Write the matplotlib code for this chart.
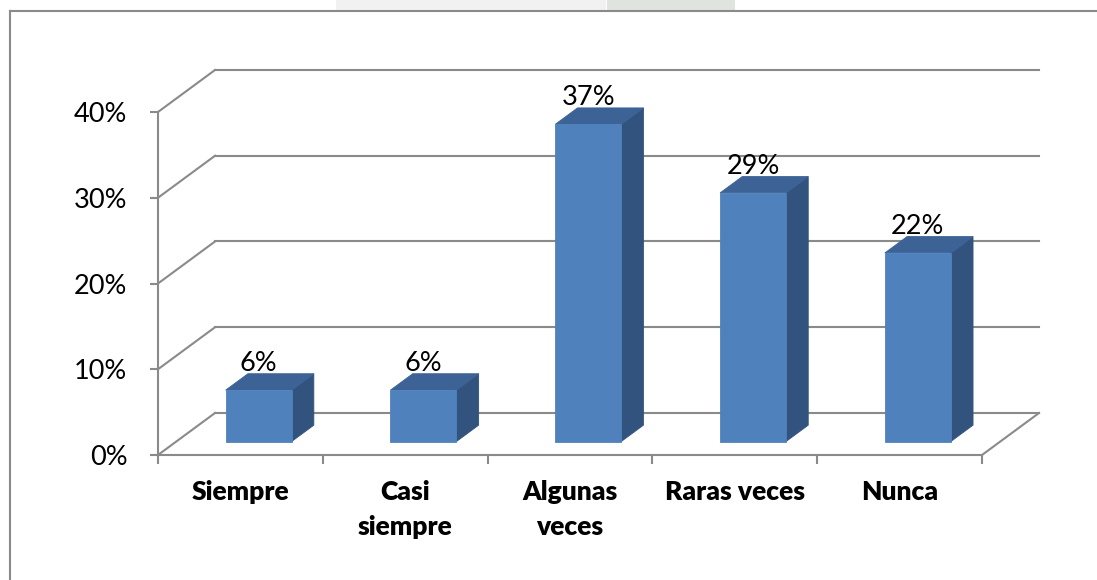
import matplotlib
matplotlib.use("Agg")
import matplotlib.pyplot as plt
from matplotlib.lines import Line2D
from matplotlib.patches import Polygon, Rectangle
from matplotlib.ticker import FuncFormatter

categories = ["Siempre", "Casi\nsiempre", "Algunas\nveces", "Raras veces", "Nunca"]
percentages = [6, 6, 37, 29, 22]
y_ticks = [0, 10, 20, 30, 40]

W, H = 1097, 580
GRID = "#8a8a8a"
FRONT = "#4f81bd"
TOP = "#3d6396"
SIDE = "#32537d"

plt.rcParams["font.family"] = ["Lato", "DejaVu Sans"]

fig = plt.figure(figsize=(W / 100, H / 100), dpi=100)
fig.patch.set_facecolor("white")

# faint watermark remnants in the top strip + chart border
fig.add_artist(Rectangle((336 / W, 1 - 11 / H), 270 / W, 11 / H, transform=fig.transFigure,
                         facecolor="#f0f1f0", edgecolor="none"))
fig.add_artist(Rectangle((607 / W, 1 - 11 / H), 128 / W, 11 / H, transform=fig.transFigure,
                         facecolor="#dfe4df", edgecolor="none"))
fig.add_artist(Line2D([10 / W, 10 / W], [0, 1 - 11 / H], transform=fig.transFigure, color=GRID, lw=1.5))
fig.add_artist(Line2D([10 / W, 1], [1 - 11 / H, 1 - 11 / H], transform=fig.transFigure, color=GRID, lw=1.5))

# front plane of the 3-D plot
ax = fig.add_axes([158 / W, 125 / H, 824 / W, 343 / H])
ax.set_xlim(-0.5, len(categories) - 0.5)
ax.set_ylim(0, 40)
ax.patch.set_alpha(0)

# depth vector (back wall offset) in data units
ddx = 57 / (824 / len(categories))
ddy = 42 / (343 / 40)

x0, x1 = -0.5, len(categories) - 0.5
for t in y_ticks:
    ax.plot([x0, x0 + ddx], [t, t + ddy], color=GRID, lw=1.5, clip_on=False, zorder=1)
    ax.plot([x0 + ddx, x1 + ddx], [t + ddy, t + ddy], color=GRID, lw=1.5, clip_on=False, zorder=1)
ax.plot([x1, x1 + ddx], [0, ddy], color=GRID, lw=1.5, clip_on=False, zorder=1)

# 3-D bars
d0, d1 = 0.32, 0.71
bw = 0.40
for i, v in enumerate(percentages):
    fx = i + d0 * ddx
    fy = d0 * ddy
    bx = i + d1 * ddx
    by = d1 * ddy
    front = [(fx - bw / 2, fy), (fx + bw / 2, fy), (fx + bw / 2, fy + v), (fx - bw / 2, fy + v)]
    top = [(fx - bw / 2, fy + v), (fx + bw / 2, fy + v), (bx + bw / 2, by + v), (bx - bw / 2, by + v)]
    side = [(fx + bw / 2, fy), (bx + bw / 2, by), (bx + bw / 2, by + v), (fx + bw / 2, fy + v)]
    for pts, col in ((side, SIDE), (top, TOP), (front, FRONT)):
        ax.add_patch(Polygon(pts, closed=True, facecolor=col, edgecolor=col, lw=0.6,
                             clip_on=False, zorder=3))
    ax.text(fx, by + v + 0.35, f"{v}%", ha="center", va="baseline", fontsize=19.5,
            color="black", zorder=4, clip_on=False)

for side_name in ("top", "right"):
    ax.spines[side_name].set_visible(False)
for side_name in ("left", "bottom"):
    ax.spines[side_name].set_color(GRID)
    ax.spines[side_name].set_linewidth(1.5)
    ax.spines[side_name].set_zorder(2)

ax.set_yticks(y_ticks)
ax.yaxis.set_major_formatter(FuncFormatter(lambda v, _: f"{v:.0f}%"))
ax.tick_params(axis="y", direction="out", length=6, width=1.5, color=GRID, pad=16,
               labelsize=19.5, labelcolor="black")

ax.set_xticks([i - 0.5 for i in range(len(categories) + 1)])
ax.set_xticklabels([])
ax.set_xticks(range(len(categories)), minor=True)
ax.set_xticklabels(categories, minor=True, fontweight="heavy", fontsize=19, linespacing=1.55)
ax.tick_params(axis="x", which="major", direction="out", length=6.5, width=1.5, color=GRID)
ax.tick_params(axis="x", which="minor", length=0, pad=18, labelcolor="black")

fig.savefig("out.png", dpi=100, facecolor="white")
